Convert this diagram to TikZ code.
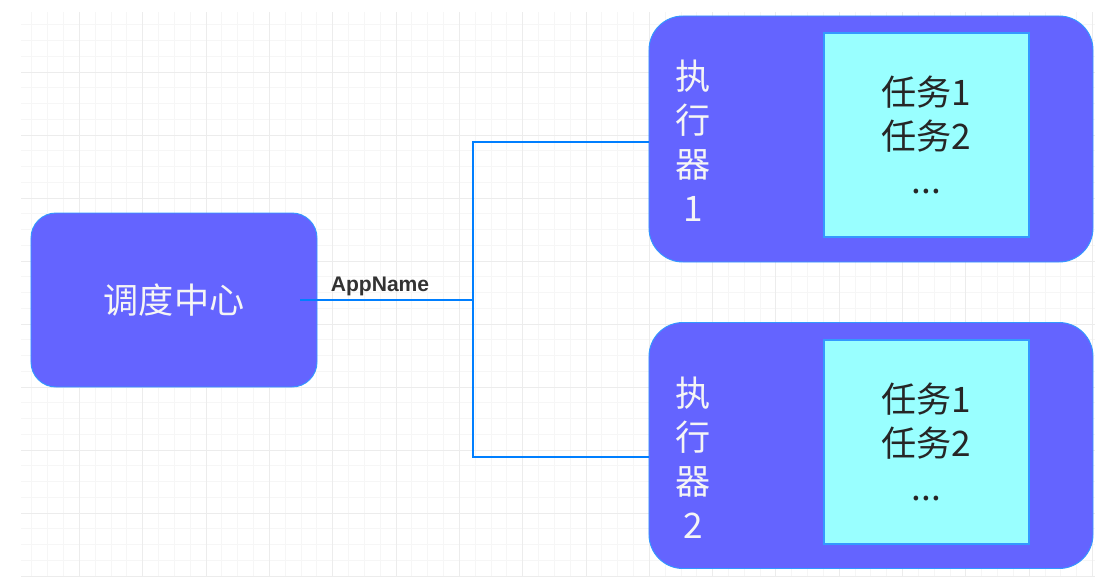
\documentclass[tikz,border=0pt]{standalone}
\usepackage{fontspec}
\setmainfont{Liberation Sans}
\newfontfamily\cjkfont{Noto Sans CJK SC}
\usetikzlibrary{calc}

\definecolor{hubfill}{HTML}{6464FF}
\definecolor{edgeblue}{HTML}{3399FF}
\definecolor{linkblue}{HTML}{007FFF}
\definecolor{taskfill}{HTML}{99FFFF}
\definecolor{gridminor}{HTML}{F6F6F6}
\definecolor{gridmajor}{HTML}{ECECEC}

\begin{document}
\begin{tikzpicture}[
        x=0.03cm, y=-0.03cm,
        hub/.style={rectangle, rounded corners=0.75cm, draw=edgeblue, line width=0.8pt, fill=hubfill,
            minimum width=8.58cm, minimum height=5.22cm, text=white!96!black,
            font=\cjkfont\fontsize{30}{37.5}\selectfont},
        worker/.style={rectangle, rounded corners=1.02cm, draw=edgeblue, line width=0.8pt, fill=hubfill,
            minimum width=13.32cm, minimum height=7.38cm},
        tasks/.style={rectangle, draw=edgeblue, line width=1pt, fill=taskfill,
            minimum width=6.15cm, minimum height=6.12cm, align=center, text=black!85,
            font=\cjkfont\fontsize{30}{37.5}\selectfont},
        wname/.style={align=center, text=white!96!black, inner sep=0pt,
            font=\cjkfont\fontsize{30}{37.5}\selectfont},
        link/.style={draw=linkblue, line width=2.2pt},
        tag/.style={font=\bfseries\fontsize{18}{20}\selectfont, text=black!80, inner sep=0pt}
    ]
    \fill[white] (0,0) rectangle (1111,579);

    % Background grid
    \begin{scope}
        \clip (21,12) rectangle (1095,577);
        \foreach \k in {0,...,68} \draw[gridminor, line width=0.6pt] ({16+15.83*\k},12) -- ++(0,565);
        \foreach \k in {1,...,36} \draw[gridminor, line width=0.6pt] (21,{9+15.75*\k}) -- ++(1074,0);
        \foreach \k in {0,...,17} \draw[gridmajor, line width=0.8pt] ({16+63.33*\k},12) -- ++(0,565);
        \foreach \k in {1,...,9} \draw[gridmajor, line width=0.8pt] (21,{9+63*\k}) -- ++(1074,0);
    \end{scope}

    \node[hub] (hub) at (174,300) {调度中心};

    \node[worker] (exec1) at (871,139) {};
    \node[tasks] (tasks1) at (926.5,135) {任务1\\任务2\\...};
    \node[wname] (name1) at (693,141) {执\\行\\器\\1};

    \node[worker] (exec2) at (871,445.5) {};
    \node[tasks] (tasks2) at (926.5,442) {任务1\\任务2\\...};
    \node[wname] (name2) at (693,458) {执\\行\\器\\2};

    % Connectors
    \coordinate (appout) at (300,300);
    \coordinate (fork) at (473,300);
    \draw[link] (appout) -- (fork);
    \draw[link] (fork) |- ($(exec1.west)+(0,3)$);
    \draw[link] (fork) |- ($(exec2.west)+(0,11.5)$);
    \node[tag] (appname) at (380,286) {AppName};
\end{tikzpicture}
\end{document}
